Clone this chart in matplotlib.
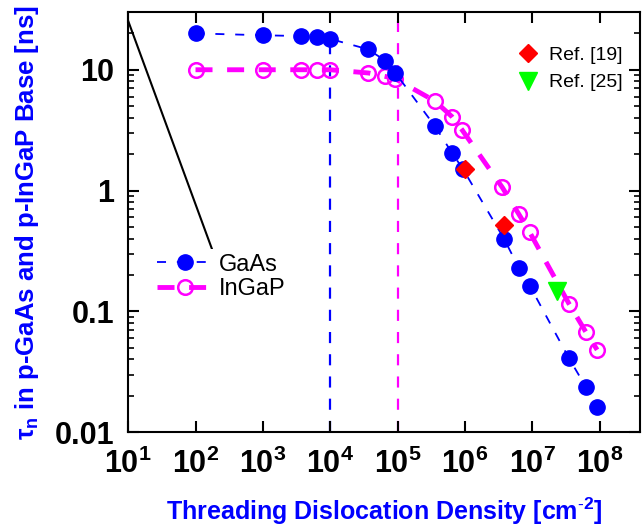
import matplotlib
matplotlib.use("Agg")
import matplotlib.pyplot as plt
from matplotlib.lines import Line2D

plt.rcParams['font.family'] = ['Liberation Sans', 'DejaVu Sans']
plt.rcParams['mathtext.fontset'] = 'custom'
plt.rcParams['mathtext.rm'] = 'Liberation Sans'
plt.rcParams['mathtext.bf'] = 'Liberation Sans:bold'
plt.rcParams['mathtext.it'] = 'Liberation Sans:italic'

# Data
gaas_x = [1e2, 1e3, 3.7e3, 6.3e3, 1e4, 3.6e4, 6.6e4, 9.3e4, 3.6e5, 6.4e5, 9.4e5,
          3.8e6, 6.3e6, 9.2e6, 3.5e7, 6.3e7, 9.2e7]
gaas_y = [20.0, 19.3, 19.0, 18.5, 18.0, 14.8, 11.9, 9.4, 3.4, 2.06, 1.5,
          0.40, 0.23, 0.163, 0.041, 0.0235, 0.016]
ingap_x = [1e2, 1e3, 3.7e3, 6.3e3, 1e4, 3.7e4, 6.6e4, 9.3e4, 3.6e5, 6.4e5, 9.0e5,
           3.6e6, 6.3e6, 9.2e6, 3.5e7, 6.3e7, 9.2e7]
ingap_y = [10.0, 10.0, 10.0, 10.0, 10.0, 9.4, 8.8, 8.4, 5.5, 4.1, 3.2,
           1.06, 0.64, 0.45, 0.116, 0.067, 0.048]
ref19_x = [1.0e6, 3.8e6]
ref19_y = [1.5, 0.52]
ref25_x = [2.3e7]
ref25_y = [0.148]
fit_x = [10, 2.1e2]
fit_y = [25.4, 0.25]
vline_gaas_x = 1e4
vline_gaas_top = 18.0
vline_ingap_x = 1e5
xticks = [1e1, 1e2, 1e3, 1e4, 1e5, 1e6, 1e7, 1e8]
xticklabels = [r'$\mathbf{10^{%d}}$' % i for i in range(1, 9)]
yticks = [0.01, 0.1, 1, 10]
yticklabels = ['0.01', '0.1', '1', '10']

fig = plt.figure(figsize=(6.44, 5.27), dpi=100)
ax = fig.add_axes([0.199, 0.180, 0.795, 0.797])
ax.set_xscale('log')
ax.set_yscale('log')
ax.set_xlim(10, 4e8)
ax.set_ylim(0.01, 30)

ax.plot(fit_x, fit_y, color='black', lw=1.5, zorder=2)
ax.plot([vline_gaas_x, vline_gaas_x], [0.01, vline_gaas_top], color='#0000ff',
        lw=1.6, dashes=(5, 5), zorder=1)
ax.plot([vline_ingap_x, vline_ingap_x], [0.01, 30], color='#ff00ff',
        lw=1.6, dashes=(5, 5), zorder=1)

l1, = ax.plot(gaas_x, gaas_y, color='#0000ff', lw=1.3, dashes=(5, 6),
              marker='o', ms=11, mfc='#0000ff', mec='#0000ff', zorder=4, label='GaAs')
l2, = ax.plot(ingap_x, ingap_y, color='#ff00ff', lw=3.5, dashes=(3.5, 3),
              marker='o', ms=10.5, mfc='none', mec='#ff00ff', mew=1.8, zorder=3, label='InGaP')
r1, = ax.plot(ref19_x, ref19_y, ls='none', marker='D', ms=9, color='#ff0000', zorder=5,
              label='Ref. [19]')
r2, = ax.plot(ref25_x, ref25_y, ls='none', marker='v', ms=13, color='#00ff00', zorder=5,
              label='Ref. [25]')

leg1 = ax.legend(handles=[l1, l2], loc='center left', bbox_to_anchor=(0.025, 0.37),
                 frameon=True, framealpha=1, edgecolor='none', facecolor='white',
                 fontsize=17, handlelength=2.3, handletextpad=0.3, labelspacing=0.1,
                 borderpad=0.2)
leg1.set_zorder(6)
ax.add_artist(leg1)
leg2 = ax.legend(handles=[r1, r2], loc='upper right', bbox_to_anchor=(1.0, 0.96),
                 frameon=False, fontsize=14, handlelength=1.0, handletextpad=0.6,
                 labelspacing=0.5)

ax.set_xticks(xticks)
ax.set_xticklabels(xticklabels)
ax.set_yticks(yticks)
ax.set_yticklabels(yticklabels)
ax.tick_params(axis='both', which='major', direction='in', length=8, width=1.5,
               top=True, right=True, labelsize=22)
ax.tick_params(axis='x', which='major', pad=12)
ax.tick_params(axis='y', which='major', pad=10)
ax.tick_params(axis='both', which='minor', direction='in', length=4, width=1.2,
               top=True, right=True)
for lab in ax.get_yticklabels():
    lab.set_fontweight('bold')
for s in ax.spines.values():
    s.set_linewidth(1.5)

ax.set_xlabel(r'Threading Dislocation Density [cm$^{\mathbf{\text{-}2}}$]', color='#0000ff',
              fontsize=18, fontweight='bold', labelpad=11)
ax.set_ylabel(r'$\mathbf{\tau_n}$ in p-GaAs and p-InGaP Base [ns]', color='#0000ff',
              fontsize=18.5, fontweight='bold', labelpad=10)

fig.savefig('out.png', dpi=100)
